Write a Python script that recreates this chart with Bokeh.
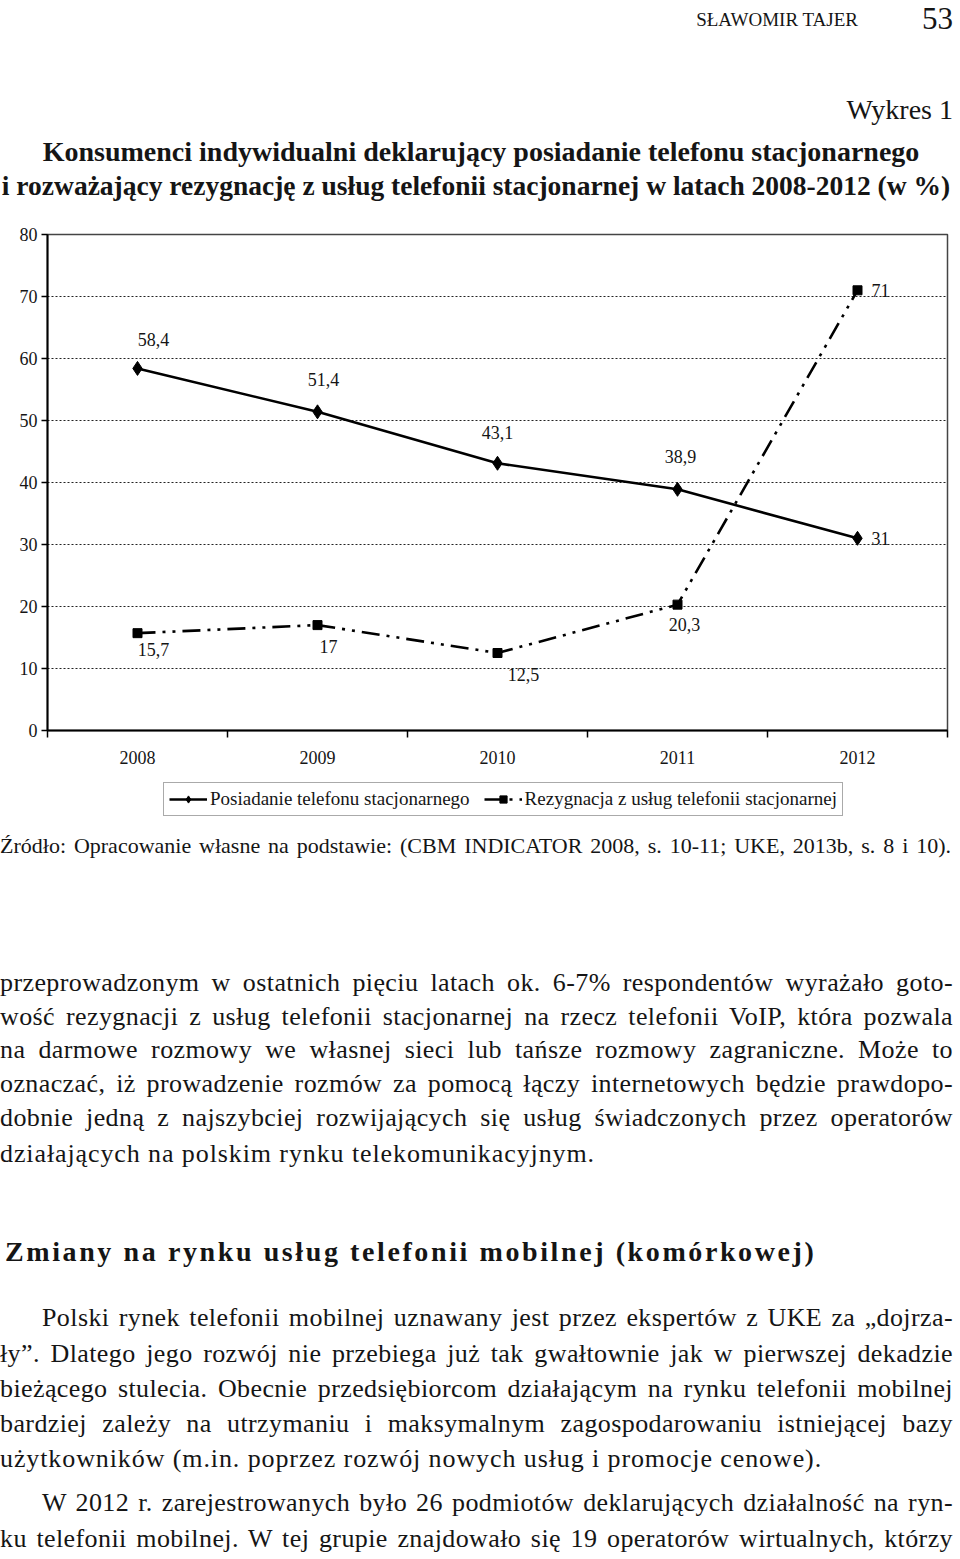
from bokeh.plotting import figure
from bokeh.models import (LabelSet, ColumnDataSource, FixedTicker, Range1d,
                          Legend, LegendItem, Div)
from bokeh.layouts import column
from bokeh.core.properties import value
from bokeh.embed import file_html
from bokeh.resources import INLINE

# ---------------- data ----------------
years = ["2008", "2009", "2010", "2011", "2012"]
posiadanie = [58.4, 51.4, 43.1, 38.9, 31]
rezygnacja = [15.7, 17, 12.5, 20.3, 71]
y_ticks = [0, 10, 20, 30, 40, 50, 60, 70, 80]
series_names = ["Posiadanie telefonu stacjonarnego",
                "Rezygnacja z usług telefonii stacjonarnej"]

header_author = "SŁAWOMIR TAJER"
header_page = "53"
chart_no = "Wykres 1"
title_lines = ["Konsumenci indywidualni deklarujący posiadanie telefonu stacjonarnego",
               "i rozważający rezygnację z usług telefonii stacjonarnej w latach 2008-2012 (w %)"]
source_text = "Źródło: Opracowanie własne na podstawie: (CBM INDICATOR 2008, s. 10-11; UKE, 2013b, s. 8 i 10)."

para1 = ["przeprowadzonym w ostatnich pięciu latach ok. 6-7% respondentów wyrażało goto-",
         "wość rezygnacji z usług telefonii stacjonarnej na rzecz telefonii VoIP, która pozwala",
         "na darmowe rozmowy we własnej sieci lub tańsze rozmowy zagraniczne. Może to",
         "oznaczać, iż prowadzenie rozmów za pomocą łączy internetowych będzie prawdopo-",
         "dobnie jedną z najszybciej rozwijających się usług świadczonych przez operatorów",
         "działających na polskim rynku telekomunikacyjnym."]
heading = "Zmiany na rynku usług telefonii mobilnej (komórkowej)"
para2 = ["Polski rynek telefonii mobilnej uznawany jest przez ekspertów z UKE za „dojrza-",
         "ły”. Dlatego jego rozwój nie przebiega już tak gwałtownie jak w pierwszej dekadzie",
         "bieżącego stulecia. Obecnie przedsiębiorcom działającym na rynku telefonii mobilnej",
         "bardziej zależy na utrzymaniu i maksymalnym zagospodarowaniu istniejącej bazy",
         "użytkowników (m.in. poprzez rozwój nowych usług i promocje cenowe)."]
para3 = ["W 2012 r. zarejestrowanych było 26 podmiotów deklarujących działalność na ryn-",
         "ku telefonii mobilnej. W tej grupie znajdowało się 19 operatorów wirtualnych, którzy"]

# ---------------- styles / layout ----------------
SERIF = "Liberation Serif"
INK = "#151515"
TOP_H = 220                          # header/title block height
FL, FT, FW, FH = 47, 234, 900, 496   # plot frame on the page
FIG_BOTTOM = 775                     # page y where the chart figure ends
LEG_BOTTOM = 830                     # page y where the legend strip ends
PAGE_W, PAGE_H = 960, 1559

# data-label offsets in pixels (style, not data)
off1_x = [16, 6, 0, 3, 14]
off1_y = [29, 32, 31, 33, 0]
off1_align = ["center", "center", "center", "center", "left"]
off2_x = [16, 11, 26, 7, 14]
off2_y = [-16, -21, -21, -20, 0]
off2_align = ["center", "center", "center", "center", "left"]

def fmt(v):
    return f"{v:g}".replace(".", ",")

xs = list(range(len(years)))
src1 = ColumnDataSource(dict(x=xs, y=posiadanie, lab=[fmt(v) for v in posiadanie],
                             dx=off1_x, dy=off1_y, al=off1_align))
src2 = ColumnDataSource(dict(x=xs, y=rezygnacja, lab=[fmt(v) for v in rezygnacja],
                             dx=off2_x, dy=off2_y, al=off2_align))

LINE1 = dict(line_color="black", line_width=2.6)
LINE2 = dict(line_color="black", line_width=2.6, line_dash="18 7 3 7 3 7")
MARK1 = dict(marker="diamond", size=14, fill_color="black", line_color="black")
MARK2 = dict(marker="square", size=9, fill_color="black", line_color="black")

p = figure(width=PAGE_W, height=FIG_BOTTOM - TOP_H, output_backend="svg", toolbar_location=None,
           x_range=Range1d(-0.5, len(years) - 0.5), y_range=Range1d(y_ticks[0], y_ticks[-1]),
           min_border_left=FL, min_border_right=PAGE_W - FL - FW,
           min_border_top=FT - TOP_H, min_border_bottom=FIG_BOTTOM - (FT + FH),
           background_fill_color="white", border_fill_color="white", margin=0)
p.outline_line_color = "#444"
p.outline_line_width = 1.5

# axes
p.xaxis.ticker = FixedTicker(ticks=xs, minor_ticks=[i - 0.5 for i in range(len(years) + 1)])
p.xaxis.major_label_overrides = {i: y for i, y in enumerate(years)}
p.xaxis.major_tick_line_color = None
p.xaxis.major_tick_out = 0
p.xaxis.major_tick_in = 0
p.xaxis.minor_tick_line_color = "black"
p.xaxis.minor_tick_line_width = 1.5
p.xaxis.minor_tick_out = 7
p.xaxis.minor_tick_in = 0
p.xaxis.major_label_standoff = 13
p.xaxis.axis_line_color = "black"
p.xaxis.axis_line_width = 2

p.yaxis.ticker = FixedTicker(ticks=y_ticks)
p.yaxis.major_tick_out = 6
p.yaxis.major_tick_in = 0
p.yaxis.major_tick_line_color = "black"
p.yaxis.major_tick_line_width = 1.5
p.yaxis.minor_tick_line_color = None
p.yaxis.major_label_standoff = 4
p.yaxis.axis_line_color = "black"
p.yaxis.axis_line_width = 2

for ax in (p.xaxis, p.yaxis):
    ax.major_label_text_font = SERIF
    ax.major_label_text_font_size = "18px"
    ax.major_label_text_color = INK

p.xgrid.visible = False
p.ygrid.ticker = FixedTicker(ticks=y_ticks)
p.ygrid.grid_line_color = "#222"
p.ygrid.grid_line_dash = "2 2"
p.ygrid.grid_line_width = 1

# series
p.line("x", "y", source=src1, **LINE1)
p.scatter("x", "y", source=src1, **MARK1)
p.line("x", "y", source=src2, **LINE2)
p.scatter("x", "y", source=src2, **MARK2)

for src in (src1, src2):
    p.add_layout(LabelSet(x="x", y="y", text="lab", source=src, x_offset="dx", y_offset="dy",
                          text_align="al", text_baseline="middle",
                          text_font=value(SERIF), text_font_size="18px", text_color=INK))

# ---------------- legend strip ----------------
# The series glyphs are repeated here (out of this strip's visible ranges) so that
# the legend can draw their line/marker samples.
lf = figure(width=PAGE_W, height=LEG_BOTTOM - FIG_BOTTOM, output_backend="svg",
            toolbar_location=None, x_axis_type=None, y_axis_type=None,
            x_range=Range1d(-30, -20), y_range=Range1d(-30, -20),
            min_border=0, min_border_left=0, min_border_right=0, min_border_top=0,
            min_border_bottom=0, margin=0, background_fill_color="white",
            border_fill_color="white", outline_line_color=None)
lf.xgrid.visible = False
lf.ygrid.visible = False
gl1 = lf.line("x", "y", source=src1, **LINE1)
gm1 = lf.scatter("x", "y", source=src1, **MARK1)
gl2 = lf.line("x", "y", source=src2, **LINE2)
gm2 = lf.scatter("x", "y", source=src2, **MARK2)
# the column layout aligns this strip's frame with the chart frame (left edge at FL)
legend = Legend(items=[LegendItem(label=series_names[0], renderers=[gl1, gm1]),
                       LegendItem(label=series_names[1], renderers=[gl2, gm2])],
                orientation="horizontal", location=(163 - FL, LEG_BOTTOM - 816),
                label_text_font=SERIF, label_text_font_size="19px", label_text_color=INK,
                glyph_width=38, glyph_height=18, label_standoff=3, spacing=14,
                padding=5, margin=0, border_line_color="#555", border_line_width=1.5,
                background_fill_color="white", background_fill_alpha=1.0)
lf.add_layout(legend)

# ---------------- HTML text blocks ----------------
def line_div(text, center_y, left, width, size, origin_y, align="left", extra="", k=0.6):
    top = center_y - origin_y - k * size
    if align == "justify":
        ta = "text-align:justify;text-align-last:justify;"
    else:
        ta = f"text-align:{align};"
    return (f'<div style="position:absolute;left:{left}px;top:{top:.1f}px;width:{width}px;'
            f'font-size:{size}px;line-height:{size}px;white-space:nowrap;{ta}{extra}">{text}</div>')

def block(parts, height):
    html = (f'<div style="position:relative;width:{PAGE_W}px;height:{height}px;overflow:hidden;'
            f'font-family:\'{SERIF}\';color:{INK};">' + "".join(parts) + '</div>')
    return Div(text=html, width=PAGE_W, height=height, margin=0)

top_parts = [
    line_div(header_author, 20, 0, 858, 19, 0, align="right", k=0.52),
    line_div(header_page, 19, 0, 953, 31, 0, align="right", k=0.52),
    line_div(chart_no, 111, 0, 953, 28, 0, align="right", k=0.55),
    line_div(title_lines[0], 154, 0, 962, 28, 0, align="center", extra="font-weight:bold;", k=0.57),
    line_div(title_lines[1], 188, 0, 952, 27.5, 0, align="center", extra="font-weight:bold;", k=0.57),
]
top_block = block(top_parts, TOP_H)

FS = 26
JUST_LS = "letter-spacing:0.4px;"
LAST_LS = "letter-spacing:0.9px;"
O = LEG_BOTTOM
body_parts = [line_div(source_text, 847, 0, 951, 22, O, align="justify", k=0.57)]
p1_y = [986, 1020, 1053, 1087, 1121, 1157]
for i, t in enumerate(para1):
    last = i == len(para1) - 1
    body_parts.append(line_div(t, p1_y[i], 0, 953, FS, O,
                               align="left" if last else "justify",
                               extra=LAST_LS if last else JUST_LS))
body_parts.append(line_div(heading, 1254, 5, 900, 28, O,
                           extra="font-weight:bold;letter-spacing:2.6px;", k=0.58))
p2_y = [1321, 1357, 1392, 1427, 1462]
for i, t in enumerate(para2):
    last = i == len(para2) - 1
    left = 42 if i == 0 else 0
    body_parts.append(line_div(t, p2_y[i], left, 953 - left, FS, O,
                               align="left" if last else "justify",
                               extra=LAST_LS if last else JUST_LS))
p3_y = [1506, 1542]
for i, t in enumerate(para3):
    left = 42 if i == 0 else 0
    body_parts.append(line_div(t, p3_y[i], left, 953 - left, FS, O, align="justify",
                               extra=JUST_LS))
body_block = block(body_parts, PAGE_H - LEG_BOTTOM)

layout = column(top_block, p, lf, body_block, spacing=0)
open("out.html", "w").write(file_html(layout, INLINE))
